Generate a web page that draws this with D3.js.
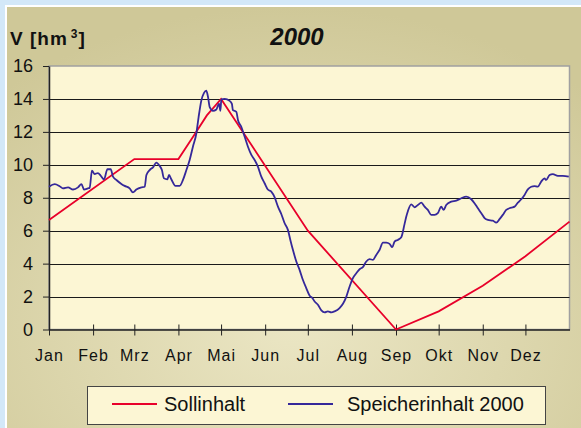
<!DOCTYPE html>
<html>
<head>
<meta charset="utf-8">
<script src="https://cdn.jsdelivr.net/npm/d3@7"></script>
<style>
  body { margin: 0; background: #d3e8f8; }
  svg { display: block; font-family: Arial, "Liberation Sans", sans-serif; }
</style>
</head>
<body>
<div id="chart"></div>
<script>
// Sollinhalt: day of year 2000 -> hm3
var sollDays = [0, 60, 91, 102, 111, 121, 182, 244, 274, 305, 335, 366];
var sollValues = [6.65, 10.35, 10.35, 11.8, 13.0, 14.0, 6.0, 0, 1.1, 2.65, 4.45, 6.55];

// Speicherinhalt 2000
var speicherDays = [0, 4, 7.5, 9.8, 13.4, 16.9, 20.4, 22.8, 24.6, 27.4, 28.6, 30.2, 32.1, 34.4, 36.3,
  38.7, 41.1, 43.4, 45, 47.4, 50.9, 53.2, 56.7, 59, 61.4, 65, 67.3, 68.5, 70.8, 73.1, 75.5, 77.8,
  79.4, 80.8, 83.2, 84.4, 86, 88.9, 91.9, 94.2, 96.6, 98.9, 101.2, 103.6, 105.2, 107.1, 109, 110.6,
  111.8, 113, 115.3, 117.7, 119.5, 120.5, 121.2, 123.5, 127, 128.6, 129.3, 131.7, 132.9, 135.2,
  137.6, 139.9, 142.3, 144.6, 146.9, 149.3, 151.6, 153.9, 156.3, 158.7, 161, 163.4, 165.7, 168,
  169.7, 171.5, 173.9, 176.2, 178.5, 180.9, 183.3, 185.2, 186.8, 189.1, 191.5, 193.8, 196.1,
  198.5, 200.8, 204.3, 206.7, 209.1, 211.4, 213.7, 216.1, 218.4, 220.7, 223.1, 225.4, 227.8,
  230.1, 232.5, 234.8, 237.2, 239.5, 241.4, 243, 245.3, 247.7, 250, 251.2, 252.4, 254.7, 257.1,
  259.4, 261.8, 264.1, 266.4, 268.8, 271.1, 273.4, 275.8, 277.5, 279.3, 282.9, 286.4, 289.9,
  293.4, 296.9, 299.2, 301.6, 304, 306.3, 308.6, 312.1, 314.5, 316.8, 319.1, 321.5, 325, 327.4,
  329.7, 332.1, 334.4, 336.7, 339.1, 341.4, 343.7, 346.1, 348.4, 349.6, 352, 354.3, 357.8, 361.3,
  365.5];
var speicherValues = [8.67, 8.83, 8.7, 8.57, 8.63, 8.5, 8.63, 8.83, 8.5, 8.57, 8.6, 9.65, 9.44, 9.5, 9.35,
  9.12, 9.73, 9.73, 9.28, 9.08, 8.84, 8.72, 8.57, 8.33, 8.5, 8.63, 8.67, 9.38, 9.68, 9.85, 10.13, 9.93,
  9.68, 9.18, 9.12, 9.38, 9.12, 8.72, 8.72, 9.08, 9.68, 10.29, 11.1, 11.9, 12.9, 13.9, 14.37, 14.5,
  14.13, 13.5, 13.28, 13.36, 13.72, 13.28, 13.97, 14.0, 13.88, 13.7, 13.32, 13.22, 12.71, 12.31,
  11.7, 11.1, 10.6, 10.29, 9.89, 9.28, 8.88, 8.5, 8.37, 8.02, 7.46, 7.0, 6.45, 6.05,
  5.44, 4.84, 4.13, 3.62, 3.02, 2.51, 2.05, 1.91, 1.7, 1.5, 1.16, 1.04, 1.1,
  1.04, 1.1, 1.3, 1.56, 2.0, 2.61, 3.12, 3.42, 3.66, 3.79, 4.13, 4.27, 4.23,
  4.53, 4.84, 5.28, 5.28, 5.2, 5.0, 5.34, 5.44, 5.6, 6.4, 6.85, 7.2, 7.6, 7.42,
  7.56, 7.7, 7.46, 7.26, 6.96, 6.96, 7.06, 7.46, 7.26, 7.56, 7.76, 7.82, 7.97,
  8.07, 7.91, 7.67, 7.36, 7.06, 6.76, 6.65, 6.61, 6.49, 6.7, 6.96, 7.26, 7.4, 7.46,
  7.7, 7.91, 8.17, 8.51, 8.67, 8.71, 8.67, 8.98, 9.18, 9.08, 9.38, 9.44, 9.33, 9.33,
  9.28];

var monthLabels = ["Jan", "Feb", "Mrz", "Apr", "Mai", "Jun", "Jul", "Aug", "Sep", "Okt", "Nov", "Dez"];
var yTicks = [0, 2, 4, 6, 8, 10, 12, 14, 16];
var seriesNames = ["Sollinhalt", "Speicherinhalt 2000"];
var seriesColors = ["#e8002a", "#35289a"];

var W = 581, H = 428;
var margin = {top: 66, right: 12, bottom: 98, left: 49},
    width = 569.5 - margin.left,
    height = 329.5 - margin.top;

var start = new Date(2000, 0, 1);
function toDate(d) { return new Date(start.getTime() + d * 86400000); }

var svg = d3.select("#chart").append("svg")
  .attr("width", W).attr("height", H);

var defs = svg.append("defs");
var grad = defs.append("radialGradient").attr("id", "panel")
  .attr("cx", "0.5").attr("cy", "0.75").attr("r", "0.75");
grad.append("stop").attr("offset", "0%").attr("stop-color", "#ebe6c4");
grad.append("stop").attr("offset", "100%").attr("stop-color", "#cfc898");

// outer frame
svg.append("rect").attr("x", 5).attr("y", 5).attr("width", W - 5).attr("height", H - 5)
  .attr("fill", "#ffffff");
svg.append("rect").attr("x", 7).attr("y", 7).attr("width", W - 7).attr("height", H - 7)
  .attr("fill", "url(#panel)");

var g = svg.append("g")
  .attr("transform", "translate(" + margin.left + "," + margin.top + ")");

var x = d3.scaleTime()
  .domain([start, new Date(2001, 0, 1)])
  .range([0, width]);
var y = d3.scaleLinear()
  .domain([0, 16])
  .range([height, 0]);

// plot area
g.append("rect").attr("width", width).attr("height", height)
  .attr("fill", "#fcf6d4").attr("stroke", "#a0a0a0").attr("stroke-width", 1.5);

// gridlines
g.selectAll(".grid").data(yTicks.filter(function(d){ return d > 0 && d < 16; }))
  .enter().append("line")
    .attr("x1", 0).attr("x2", width)
    .attr("y1", function(d){ return Math.round(y(d)) + 0.5; })
    .attr("y2", function(d){ return Math.round(y(d)) + 0.5; })
    .attr("stroke", "#1a1a1a").attr("stroke-width", 1);

// Y axis
var yAxis = g.append("g")
  .call(d3.axisLeft(y).tickValues(yTicks).tickSize(6).tickPadding(10).tickSizeOuter(0));
yAxis.select(".domain").attr("stroke", "#222").attr("stroke-width", 1.5);
yAxis.selectAll(".tick line").attr("stroke", "#222");
yAxis.selectAll("text").style("font-size", "18px").attr("fill", "#111");

// X axis
var months = d3.timeMonth.range(start, new Date(2001, 0, 1));
var xAxis = g.append("g")
  .attr("transform", "translate(0," + height + ")")
  .call(d3.axisBottom(x).tickValues(months).tickSize(6).tickPadding(14).tickSizeOuter(0)
    .tickFormat(function(d, i){ return monthLabels[i]; }));
xAxis.select(".domain").attr("stroke", "#222").attr("stroke-width", 1.5);
xAxis.selectAll(".tick line").attr("y1", -5).attr("stroke", "#222");
xAxis.selectAll("text").style("font-size", "16px").style("letter-spacing", "1px").attr("fill", "#111");

// lines
var line = d3.line()
  .x(function(d){ return x(toDate(d[0])); })
  .y(function(d){ return y(d[1]); });

var sollData = sollDays.map(function(d, i){ return [d, sollValues[i]]; });
var speicherData = speicherDays.map(function(d, i){ return [d, speicherValues[i]]; });

g.append("path").datum(sollData)
  .attr("d", line).attr("fill", "none")
  .attr("stroke", seriesColors[0]).attr("stroke-width", 1.8);
g.append("path").datum(speicherData)
  .attr("d", d3.line().curve(d3.curveMonotoneX)
    .x(function(d){ return x(toDate(d[0])); })
    .y(function(d){ return y(d[1]); }))
  .attr("fill", "none")
  .attr("stroke", seriesColors[1]).attr("stroke-width", 1.8);

// titles
var vt = svg.append("text").attr("x", 10).attr("y", 45)
  .style("font-size", "19px").style("font-weight", "bold").style("letter-spacing", "1px")
  .attr("fill", "#111");
vt.append("tspan").text("V [hm");
vt.append("tspan").attr("dx", 3).attr("dy", -7).style("font-size", "12px").text("3");
vt.append("tspan").attr("dy", 7).text("]");
svg.append("text").attr("x", 297).attr("y", 45).attr("text-anchor", "middle")
  .style("font-size", "24px").style("font-weight", "bold").style("font-style", "italic")
  .attr("fill", "#111").text("2000");

// legend
var legend = svg.append("g");
legend.append("rect").attr("x", 87.5).attr("y", 386.5).attr("width", 458).attr("height", 38)
  .attr("fill", "#fcf6d4").attr("stroke", "#444").attr("stroke-width", 1);
var legX = [112, 288];
seriesNames.forEach(function(name, i){
  legend.append("line")
    .attr("x1", legX[i]).attr("x2", legX[i] + 45)
    .attr("y1", 404).attr("y2", 404)
    .attr("stroke", seriesColors[i]).attr("stroke-width", 1.8);
  legend.append("text")
    .attr("x", legX[i] + 52 + (i ? 7 : 0)).attr("y", 411)
    .style("font-size", "20px").attr("fill", "#111")
    .text(name);
});
</script>
</body>
</html>
